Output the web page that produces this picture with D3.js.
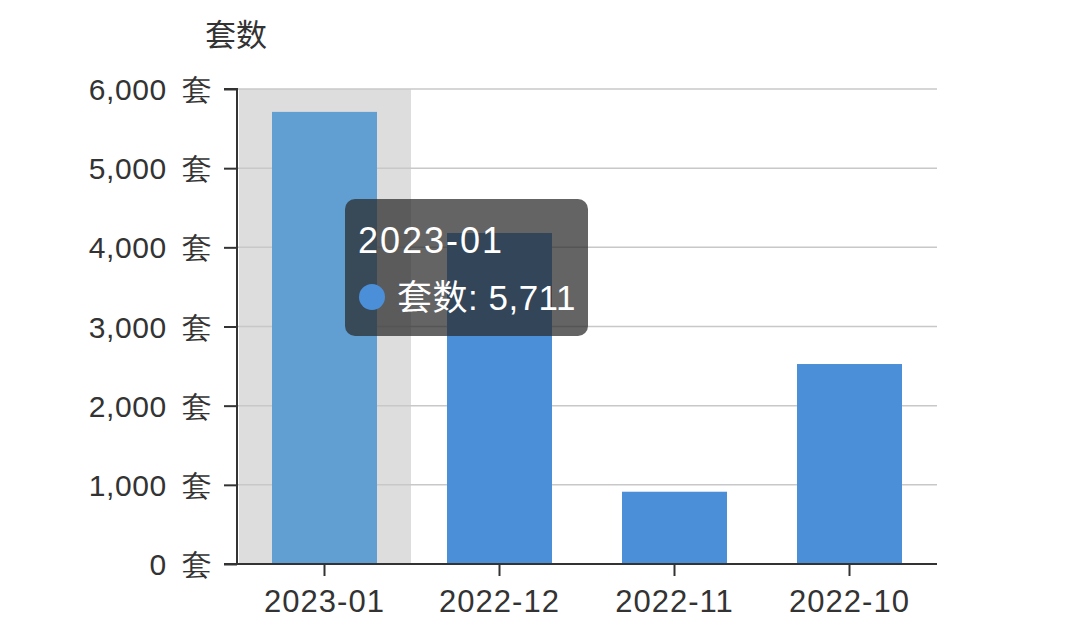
<!DOCTYPE html>
<html><head><meta charset="utf-8">
<script src="https://cdn.jsdelivr.net/npm/d3@7"></script>
<style>
html,body{margin:0;padding:0;background:#fff;}
svg{display:block;font-family:"Liberation Sans","Noto Sans CJK SC",sans-serif;}
</style></head>
<body><svg id="c" width="1080" height="636"></svg>
<script>
const categories = ["2023-01","2022-12","2022-11","2022-10"];
const values = [5711, 4181, 913, 2526];
const yTicks = [0,1000,2000,3000,4000,5000,6000];
const seriesName = "套数";
const unit = "套";
const highlighted = 0;

const svg = d3.select("#c");
const m = {l:237, r:937, t:89, b:564};
const x = d3.scaleBand().domain(categories).range([m.l, m.r]).paddingInner(0.4).paddingOuter(0.2);
const xb = d3.scaleBand().domain(categories).range([m.l, m.r]);
const y = d3.scaleLinear().domain([0,6000]).range([m.b, m.t]);
const fmt = d3.format(",");

// highlight shadow
svg.append("rect").attr("x", xb(categories[highlighted])+2).attr("y", m.t)
  .attr("width", xb.bandwidth()-3).attr("height", m.b-m.t).attr("fill","#dddddd");

// gridlines
svg.append("g").selectAll("line").data(yTicks).join("line")
  .attr("x1", m.l).attr("x2", m.r).attr("y1", d=>y(d)).attr("y2", d=>y(d))
  .attr("stroke","#c8c8c8").attr("stroke-width",1.5);

// bars
svg.append("g").selectAll("rect").data(values).join("rect")
  .attr("x",(d,i)=>x(categories[i])).attr("width",x.bandwidth())
  .attr("y",d=>y(d)).attr("height",d=>m.b-y(d))
  .attr("fill",(d,i)=> i===highlighted ? "#619fd3" : "#4b8fd8");

// y axis
const ya = svg.append("g").attr("transform",`translate(${m.l},0)`)
  .call(d3.axisLeft(y).tickValues(yTicks).tickSize(13).tickPadding(11).tickFormat(d=>fmt(d)+"\u2002"+unit));
ya.select(".domain").attr("stroke","#333").attr("stroke-width",2).attr("d",`M-13,${m.t}H0V${m.b}H-13`);
ya.selectAll(".tick line").attr("stroke","#333").attr("stroke-width",2);
ya.selectAll(".tick text").attr("fill","#333").attr("font-size",30).attr("dy","0.35em")
  .attr("letter-spacing",0.6);

// x axis
const xa = svg.append("g").attr("transform",`translate(0,${m.b})`)
  .call(d3.axisBottom(xb).tickSize(12).tickPadding(14));
xa.select(".domain").attr("stroke","#333").attr("stroke-width",2).attr("d",`M${m.l},0H${m.r}`);
xa.selectAll(".tick line").attr("stroke","#333").attr("stroke-width",2);
xa.selectAll(".tick text").attr("fill","#333").attr("font-size",31).attr("dy","0.71em")
  .attr("letter-spacing",1);

// axis title
svg.append("text").attr("x",236).attr("y",46).attr("text-anchor","middle")
  .attr("font-size",31).attr("fill","#333").text(seriesName);

// tooltip
const tt = svg.append("g").attr("transform","translate(345,199)");
tt.append("rect").attr("width",243).attr("height",137).attr("rx",10)
  .attr("fill","rgba(40,40,40,0.72)");
tt.append("text").attr("x",13).attr("y",54).attr("font-size",36).attr("fill","#fff")
  .attr("letter-spacing",2).text(categories[highlighted]);
tt.append("circle").attr("cx",27).attr("cy",98).attr("r",13).attr("fill","#4b8fd8");
tt.append("text").attr("x",52).attr("y",111).attr("font-size",35).attr("fill","#fff")
  .attr("letter-spacing",0.5).text(seriesName+": "+fmt(values[highlighted]));
</script></body></html>
